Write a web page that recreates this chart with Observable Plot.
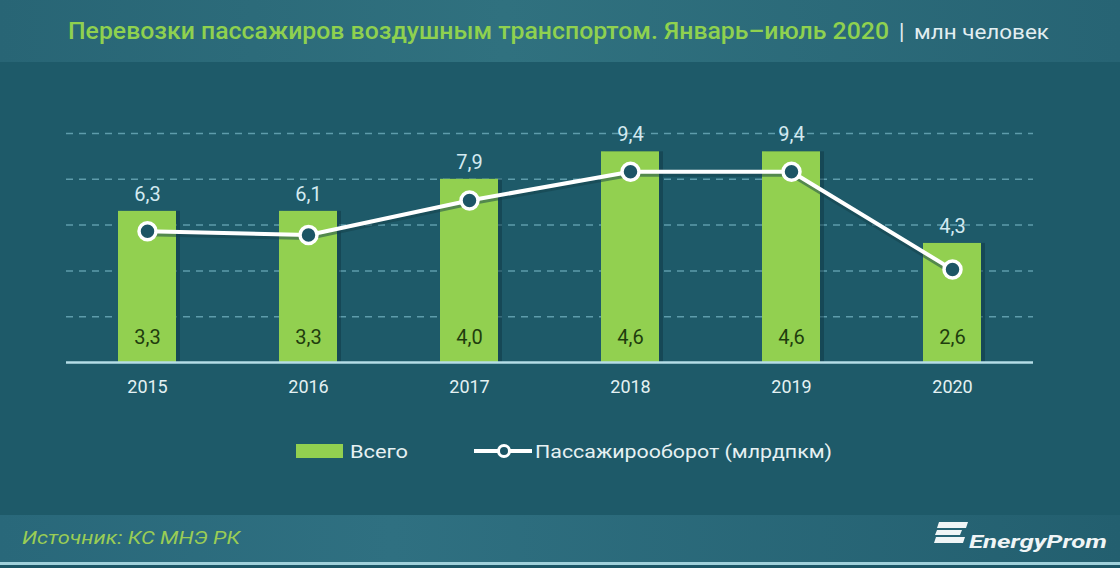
<!DOCTYPE html>
<html><head><meta charset="utf-8">
<script src="https://cdn.jsdelivr.net/npm/d3@7"></script>
<script src="https://cdn.jsdelivr.net/npm/@observablehq/plot@0.6"></script>
<style>
body{margin:0;background:#1e5a69;}
#wrap{position:relative;width:1120px;height:568px;overflow:hidden;background:#1e5a69;font-family:Roboto,"Noto Sans",sans-serif;}
#bg{position:absolute;left:0;top:0;}
#chart{position:absolute;left:0;top:62px;}
#fg{position:absolute;left:0;top:0;pointer-events:none;}
</style></head><body>
<div id="wrap">
<svg id="bg" width="1120" height="568">
  <defs>
    <linearGradient id="hg" x1="0" x2="1" y1="0" y2="0">
      <stop offset="0" stop-color="#286575"/><stop offset="0.45" stop-color="#30717f"/><stop offset="1" stop-color="#276474"/>
    </linearGradient>
    <linearGradient id="fgr" x1="0" x2="1" y1="0" y2="0">
      <stop offset="0" stop-color="#29687a"/><stop offset="0.35" stop-color="#2f7081"/><stop offset="1" stop-color="#235f6f"/>
    </linearGradient>
  </defs>
  <rect x="0" y="0" width="1120" height="568" fill="#1e5a69"/>
  <rect x="0" y="0" width="1120" height="62" fill="url(#hg)"/>
  <rect x="0" y="515" width="1120" height="47" fill="url(#fgr)"/>
  <rect x="0" y="562" width="1120" height="3" fill="#9fd0da"/>
  <rect x="0" y="565" width="1120" height="3" fill="#1b5565"/>
</svg>
<div id="chart"></div>
<svg id="fg" width="1120" height="568"></svg>
</div>
<script>
// ---- data ----
const years = ["2015", "2016", "2017", "2018", "2019", "2020"];
const totalPassengers = [3.3, 3.3, 4.0, 4.6, 4.6, 2.6];       // Всего, млн человек
const passengerTurnover = [6.3, 6.1, 7.9, 9.4, 9.4, 4.3];     // Пассажирооборот, млрд пкм
const yTicks = [1, 2, 3, 4, 5];

const titleText = "Перевозки пассажиров воздушным транспортом. Январь–июль 2020";
const unitText = "млн человек";
const legendBars = "Всего";
const legendLine = "Пассажирооборот (млрдпкм)";
const sourceText = "Источник: КС МНЭ РК";

// secondary axis (line) domain, mapped onto primary [0,5]
const y2Domain = [-0.54, 11.39];
const yDomain = [0, 5];
const toPrimary = v => (v - y2Domain[0]) / (y2Domain[1] - y2Domain[0]) * (yDomain[1] - yDomain[0]) + yDomain[0];
const fmt = v => d3.format(".1f")(v).replace(".", ",");

const data = years.map((y, i) => ({year: y, total: totalPassengers[i], turnover: passengerTurnover[i]}));

const chart = Plot.plot({
  width: 1120,
  height: 358,
  marginLeft: 66,
  marginRight: 87,
  marginTop: 71,
  marginBottom: 58,
  style: {background: "transparent", overflow: "visible", fontFamily: "Roboto, sans-serif"},
  x: {domain: years, paddingInner: 0.64, paddingOuter: 0.32, label: null},
  y: {domain: yDomain, axis: null},
  marks: [
    Plot.ruleY(yTicks, {stroke: "#5e9cab", strokeDasharray: "7,6", strokeWidth: 1.5}),
    Plot.barY(data, {x: "year", y: "total", fill: "#0d3440", fillOpacity: 0.45, dx: 4}),
    Plot.barY(data, {x: "year", y: "total", fill: "#92d050"}),
    Plot.ruleY([0], {stroke: "#b5dde6", strokeWidth: 2.5}),
    Plot.line(data, {x: "year", y: d => toPrimary(d.turnover), stroke: "#143f4a", strokeOpacity: 0.5, strokeWidth: 6, dy: 2}),
    Plot.line(data, {x: "year", y: d => toPrimary(d.turnover), stroke: "#ffffff", strokeWidth: 4}),
    Plot.dot(data, {x: "year", y: d => toPrimary(d.turnover), r: 8.5, fill: "#1c5565", stroke: "#ffffff", strokeWidth: 3.5}),
    Plot.text(data, {x: "year", y: "total", text: d => fmt(d.turnover), dy: -17, fill: "#d3eaf1", fontSize: 20}),
    Plot.text(data, {x: "year", y: 0, text: d => fmt(d.total), dy: -25, fill: "#1f3d0e", fontSize: 20}),
    Plot.axisX({tickSize: 0, tickPadding: 18, fontSize: 18, color: "#e4f1f3"})
  ]
});
document.getElementById("chart").appendChild(chart);

// ---- overlay: title, legend, footer ----
const fg = d3.select("#fg");
fg.append("text").attr("x", 68).attr("y", 39).attr("font-size", 24).attr("font-weight", 500)
  .attr("fill", "#8fd14f").attr("textLength", 821).attr("lengthAdjust", "spacingAndGlyphs").text(titleText);
fg.append("text").attr("x", 899).attr("y", 39).attr("font-size", 22).attr("fill", "#e2eef1").text("|");
fg.append("text").attr("x", 914).attr("y", 39).attr("font-size", 20).attr("fill", "#e2eef1")
  .attr("textLength", 135).attr("lengthAdjust", "spacingAndGlyphs").text(unitText);

// legend
fg.append("rect").attr("x", 296).attr("y", 444).attr("width", 47).attr("height", 14).attr("fill", "#92d050");
fg.append("text").attr("x", 350).attr("y", 458).attr("font-size", 18).attr("fill", "#e6f1f3")
  .attr("textLength", 58).attr("lengthAdjust", "spacingAndGlyphs").text(legendBars);
fg.append("line").attr("x1", 474).attr("x2", 532).attr("y1", 451).attr("y2", 451).attr("stroke", "#fff").attr("stroke-width", 4);
fg.append("circle").attr("cx", 504).attr("cy", 451).attr("r", 5.5).attr("fill", "#1c5565").attr("stroke", "#fff").attr("stroke-width", 3);
fg.append("text").attr("x", 535).attr("y", 458).attr("font-size", 18).attr("fill", "#e6f1f3")
  .attr("textLength", 297).attr("lengthAdjust", "spacingAndGlyphs").text(legendLine);

// footer
fg.append("text").attr("x", 22).attr("y", 544).attr("font-size", 19).attr("font-style", "italic")
  .attr("fill", "#9acd55").attr("textLength", 218).attr("lengthAdjust", "spacingAndGlyphs").text(sourceText);
const logo = fg.append("g").attr("fill", "#f0f5f6");
logo.append("path").attr("d", "M939,522 L968,522 L966,528 L937,528 Z");
logo.append("path").attr("d", "M937,530 L962,530 L960,535 L935,535 Z");
logo.append("path").attr("d", "M936,537 L965,537 L963,543 L934,543 Z");
fg.append("text").attr("x", 969).attr("y", 548).attr("font-size", 18).attr("font-weight", 700).attr("font-style", "italic")
  .attr("fill", "#f0f5f6").attr("textLength", 138).attr("lengthAdjust", "spacingAndGlyphs").text("EnergyProm");
</script>
</body></html>
